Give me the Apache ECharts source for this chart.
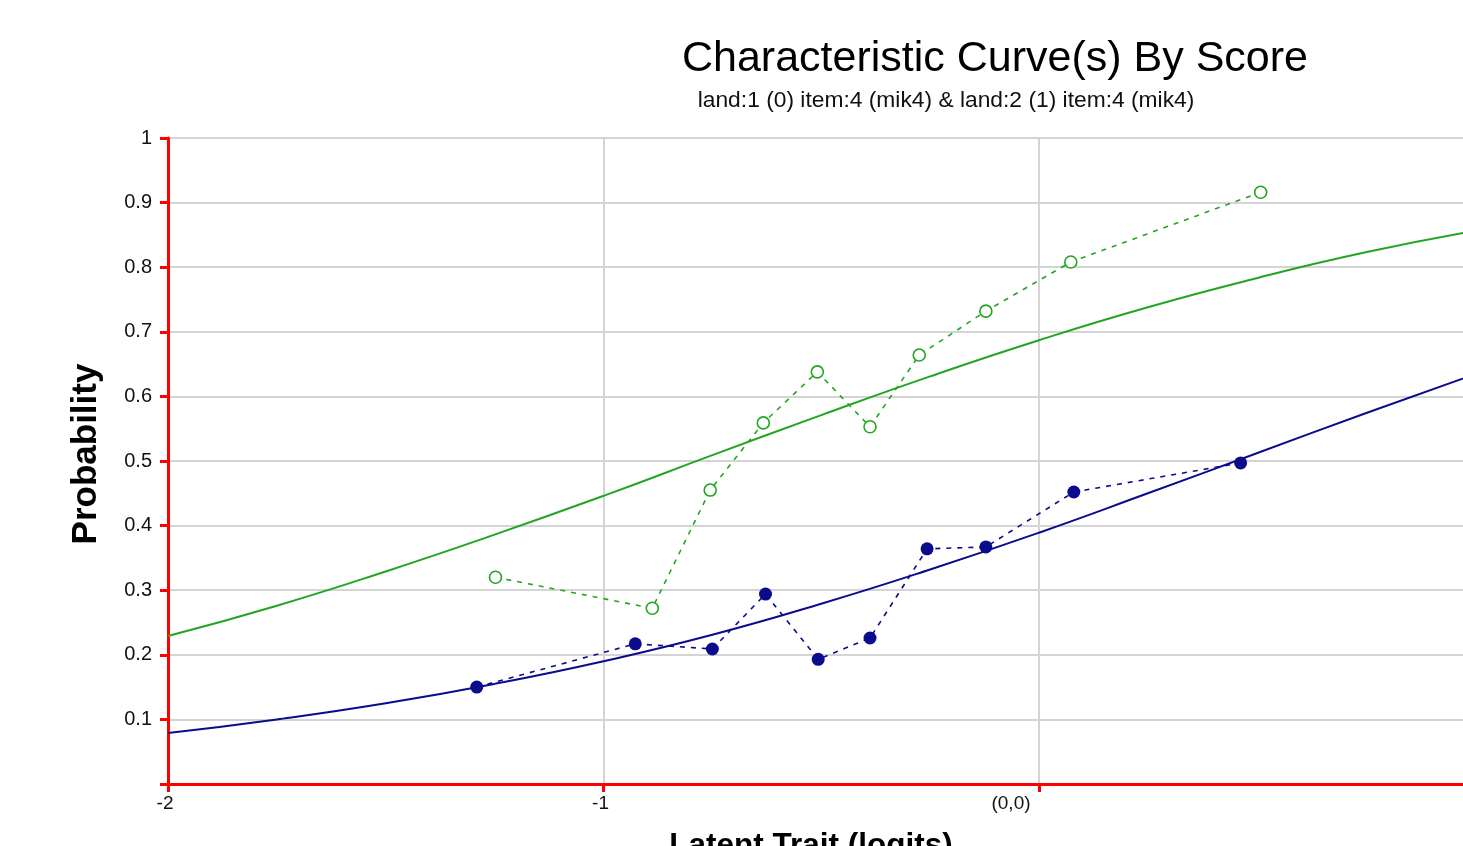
<!DOCTYPE html>
<html>
<head>
<meta charset="utf-8">
<script src="https://cdn.jsdelivr.net/npm/echarts@6/dist/echarts.min.js"></script>
<style>html,body{margin:0;padding:0;background:#fff;}#c{width:1463px;height:846px;}</style>
</head>
<body>
<div id="c"></div>
<script>
// Observed points, land:2 (green, open circles)
var obsGreenX = [-1.248, -0.888, -0.755, -0.633, -0.509, -0.388, -0.275, -0.122, 0.073, 0.509];
var obsGreenY = [0.320, 0.272, 0.455, 0.559, 0.638, 0.553, 0.664, 0.732, 0.808, 0.916];
// Observed points, land:1 (blue, filled circles)
var obsBlueX = [-1.291, -0.927, -0.750, -0.628, -0.507, -0.388, -0.257, -0.122, 0.080, 0.463];
var obsBlueY = [0.150, 0.217, 0.209, 0.294, 0.193, 0.226, 0.364, 0.367, 0.452, 0.497];
// Model curves
var curveX = [-2, -1.75, -1.5, -1.25, -1, -0.75, -0.5, -0.25, 0, 0.25, 0.5, 0.75, 1];
var curveGreen = [0.229, 0.276, 0.329, 0.386, 0.446, 0.509, 0.571, 0.631, 0.687, 0.738, 0.783, 0.823, 0.856];
var curveBlue = [0.079, 0.100, 0.125, 0.155, 0.190, 0.231, 0.279, 0.332, 0.389, 0.450, 0.512, 0.574, 0.634];
var xTicks = [-2, -1, 0];
var xTickLabels = ['-2', '-1', '(0,0)'];

function pairs(xs, ys) { return xs.map(function (x, i) { return [x, ys[i]]; }); }

var GREEN = '#22a622', BLUE = '#0b0b8e', RED = '#ff0000';
var chart = echarts.init(document.getElementById('c'));
chart.setOption({
  animation: false,
  backgroundColor: '#ffffff',
  grid: { left: 168, top: 138, bottom: 62, right: 0, containLabel: false },
  xAxis: {
    type: 'value', min: -2, max: 0.9736, interval: 1,
    axisLine: { show: true, onZero: false, lineStyle: { color: RED, width: 3 } },
    axisTick: { show: true, length: 8, lineStyle: { color: RED, width: 3 } },
    splitLine: { show: true, showMaxLine: false, lineStyle: { color: '#d4d4d4', width: 2 } },
    axisLabel: {
      fontFamily: 'Liberation Sans', fontSize: 19, color: '#111', margin: 10,
      showMaxLabel: false,
      formatter: function (v) {
        var i = xTicks.indexOf(Math.round(v));
        if (i < 0) return '';
        var t = xTickLabels[i];
        if (Math.round(v) === 0) return '{z|' + t + '}';
        return '{n|' + t + '}';
      },
      rich: {
        z: { fontFamily: 'Liberation Sans', fontSize: 19, color: '#111', padding: [0, 56, 0, 0] },
        n: { fontFamily: 'Liberation Sans', fontSize: 19, color: '#111', padding: [0, 6, 0, 0] }
      }
    }
  },
  yAxis: {
    type: 'value', min: 0, max: 1, interval: 0.1,
    axisLine: { show: true, onZero: false, lineStyle: { color: RED, width: 3 } },
    axisTick: { show: true, length: 8, lineStyle: { color: RED, width: 3 } },
    splitLine: { show: true, lineStyle: { color: '#d4d4d4', width: 2 } },
    axisLabel: {
      fontFamily: 'Liberation Sans', fontSize: 20, color: '#111', margin: 16,
      formatter: function (v) {
        var r = Math.round(v * 10) / 10;
        if (r === 0) return '';
        return String(r);
      }
    }
  },
  graphic: [
    { type: 'text', x: 995, y: 38, style: { text: 'Characteristic Curve(s) By Score', fontFamily: 'Liberation Sans', fontSize: 43, fill: '#000', align: 'center', verticalAlign: 'top' } },
    { type: 'text', x: 946, y: 89, style: { text: 'land:1 (0) item:4 (mik4) & land:2 (1) item:4 (mik4)', fontFamily: 'Liberation Sans', fontSize: 22.8, fill: '#111', align: 'center', verticalAlign: 'top' } },
    { type: 'text', x: 86, y: 454, rotation: Math.PI / 2, style: { text: 'Probability', fontFamily: 'Liberation Sans', fontWeight: 'bold', fontSize: 35, fill: '#000', align: 'center', verticalAlign: 'middle' } },
    { type: 'text', x: 811, y: 830, style: { text: 'Latent Trait (logits)', fontFamily: 'Liberation Sans', fontWeight: 'bold', fontSize: 31.5, fill: '#000', align: 'center', verticalAlign: 'top' } }
  ],
  series: [
    { type: 'line', data: pairs(curveX, curveGreen), smooth: true, showSymbol: false, symbol: 'none',
      lineStyle: { color: GREEN, width: 2 }, z: 2 },
    { type: 'line', data: pairs(curveX, curveBlue), smooth: true, showSymbol: false, symbol: 'none',
      lineStyle: { color: BLUE, width: 2 }, z: 2 },
    { type: 'line', data: pairs(obsGreenX, obsGreenY), symbol: 'circle', symbolSize: 12,
      itemStyle: { color: '#ffffff', borderColor: GREEN, borderWidth: 1.6 },
      lineStyle: { color: GREEN, width: 1.6, type: [5, 6] }, z: 3 },
    { type: 'line', data: pairs(obsBlueX, obsBlueY), symbol: 'circle', symbolSize: 13,
      itemStyle: { color: BLUE, borderColor: BLUE, borderWidth: 0 },
      lineStyle: { color: BLUE, width: 1.6, type: [5, 6] }, z: 3 }
  ]
});
</script>
</body>
</html>
